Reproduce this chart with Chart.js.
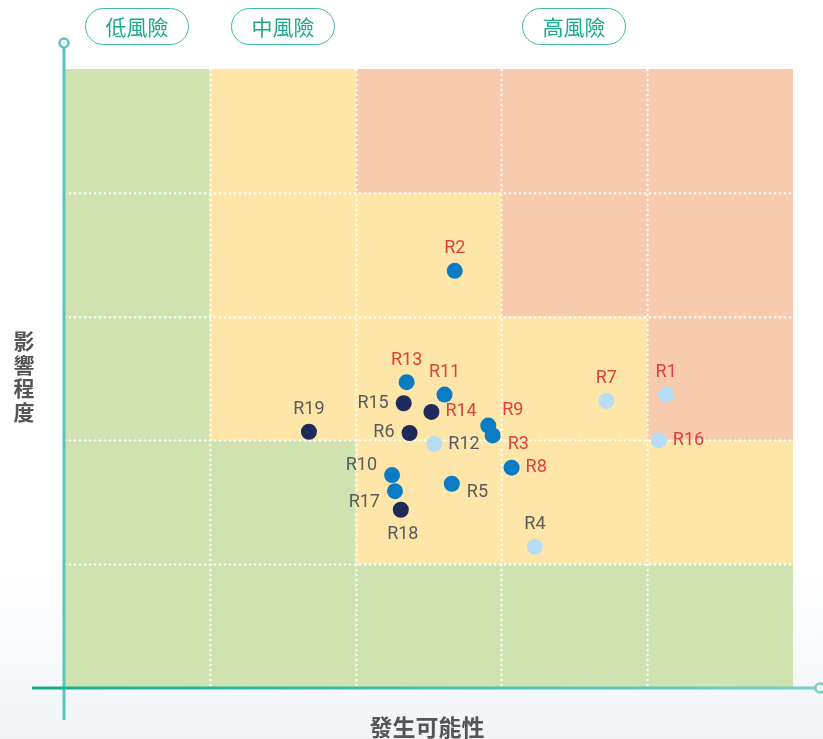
<!DOCTYPE html>
<html>
<head>
<meta charset="utf-8">
<script src="https://cdn.jsdelivr.net/npm/chart.js@4.4.0/dist/chart.umd.min.js"></script>
<style>
  html, body { margin: 0; padding: 0; }
  body {
    width: 823px; height: 739px; position: relative; overflow: hidden;
    background: linear-gradient(to bottom, #ffffff 0px, #ffffff 560px, #f1f5f8 739px);
    font-family: "Noto Sans CJK TC", "Noto Sans", sans-serif;
  }
  #c { position: absolute; left: 0; top: 0; }
  .pill {
    position: absolute; top: 8px; width: 102px; height: 35px;
    border: 1.5px solid #3dbaa4; border-radius: 19px;
    color: #1aab8d; font-size: 21px; line-height: 35px; text-align: center;
    background: #fff; box-sizing: content-box;
  }
  .ytitle {
    position: absolute; left: 12px; top: 329px; width: 24px;
    font-size: 21px; font-weight: bold; color: #555; line-height: 23.5px; text-align: center;
  }
  .xtitle {
    position: absolute; left: 327px; width: 200px; top: 710px;
    font-size: 23px; font-weight: bold; color: #555; text-align: center; line-height: 32px;
  }
</style>
</head>
<body>
<canvas id="c" width="823" height="739"></canvas>
<div class="pill" style="left:85px">低風險</div>
<div class="pill" style="left:231px">中風險</div>
<div class="pill" style="left:522px">高風險</div>
<div class="ytitle">影<br>響<br>程<br>度</div>
<div class="xtitle">發生可能性</div>
<script>
// ---- data ----
const riskIds    = ['R1','R2','R3','R4','R5','R6','R7','R8','R9','R10','R11','R12','R13','R14','R15','R16','R17','R18','R19'];
const likelihood = [4.13, 2.68, 2.94, 3.23, 2.66, 2.37, 3.72, 3.07, 2.91, 2.25, 2.61, 2.54, 2.35, 2.52, 2.33, 4.08, 2.27, 2.31, 1.68];
const impact     = [2.37, 3.37, 2.04, 1.14, 1.65, 2.06, 2.32, 1.78, 2.12, 1.72, 2.37, 1.97, 2.47, 2.23, 2.30, 2.00, 1.59, 1.44, 2.07];
const riskGroup  = ['light','blue','blue','light','blue','navy','light','blue','blue','blue','blue','light','blue','navy','navy','light','blue','navy','navy'];
const keyRisk    = [true, true, true, false, false, false, true, true, true, false, true, false, true, true, false, true, false, false, false];
const labelAnchor= ['top','top','bottom-right','top','bottom-right','left','top','right','top-right','top-left','top','right','top','right','left','right','bottom-left','bottom','top'];
// risk matrix levels, rows from top (impact 5) to bottom (impact 1), columns likelihood 1..5
const riskMatrix = [
  ['low','mid','high','high','high'],
  ['low','mid','mid','high','high'],
  ['low','mid','mid','mid','high'],
  ['low','low','mid','mid','mid'],
  ['low','low','low','low','low']
];
const axisMax = 5;

// ---- styles ----
const levelColor = { low: '#cfe3b0', mid: '#fde6a8', high: '#f8cbae' };
const groupColor = { light: '#b6ddf6', blue: '#0a7cc4', navy: '#1e2a5b' };

const matrixPlugin = {
  id: 'matrix',
  beforeDatasetsDraw(chart) {
    const { ctx, scales: { x, y } } = chart;
    ctx.save();
    for (let r = 0; r < riskMatrix.length; r++) {
      for (let c = 0; c < riskMatrix[r].length; c++) {
        const x0 = x.getPixelForValue(c), x1 = x.getPixelForValue(c + 1);
        const y0 = y.getPixelForValue(axisMax - r), y1 = y.getPixelForValue(axisMax - r - 1);
        ctx.fillStyle = levelColor[riskMatrix[r][c]];
        ctx.fillRect(x0, y0, x1 - x0, y1 - y0);
      }
    }
    // dotted grid
    ctx.strokeStyle = '#ffffff';
    ctx.lineWidth = 2;
    ctx.setLineDash([2, 3]);
    const top = y.getPixelForValue(axisMax), bottom = y.getPixelForValue(0);
    const left = x.getPixelForValue(0), right = x.getPixelForValue(axisMax);
    for (let i = 1; i < axisMax; i++) {
      const px = Math.round(x.getPixelForValue(i)) + 0.5;
      ctx.beginPath(); ctx.moveTo(px, top); ctx.lineTo(px, bottom); ctx.stroke();
      const py = Math.round(y.getPixelForValue(i)) + 0.5;
      ctx.beginPath(); ctx.moveTo(left, py); ctx.lineTo(right, py); ctx.stroke();
    }
    ctx.setLineDash([]);
    // axes
    const ax = x.getPixelForValue(0), ay = y.getPixelForValue(0);
    ctx.strokeStyle = '#5cc2bf';
    ctx.lineWidth = 3;
    ctx.beginPath(); ctx.moveTo(ax, 48); ctx.lineTo(ax, 720); ctx.stroke();
    ctx.beginPath(); ctx.arc(ax, 43, 4.5, 0, Math.PI * 2);
    ctx.fillStyle = '#fff'; ctx.fill(); ctx.lineWidth = 2.5; ctx.stroke();
    const g = ctx.createLinearGradient(32, 0, 816, 0);
    g.addColorStop(0, '#17ad8d'); g.addColorStop(1, '#7ccdc8');
    ctx.strokeStyle = g; ctx.lineWidth = 3;
    ctx.beginPath(); ctx.moveTo(32, ay); ctx.lineTo(815, ay); ctx.stroke();
    ctx.strokeStyle = '#7ccdc8'; ctx.lineWidth = 2.5;
    ctx.beginPath(); ctx.arc(820, ay, 4.5, 0, Math.PI * 2);
    ctx.fillStyle = '#fff'; ctx.fill(); ctx.stroke();
    ctx.restore();
  }
};

const labelPlugin = {
  id: 'pointLabels',
  afterDatasetsDraw(chart) {
    const { ctx } = chart;
    const meta = chart.getDatasetMeta(0);
    ctx.save();
    ctx.font = '18px Roboto, "Noto Sans", sans-serif';
    ctx.textBaseline = 'middle';
    meta.data.forEach((pt, i) => {
      const a = labelAnchor[i];
      let dx = 0, dy = 0, align = 'center';
      if (a === 'top') { dy = -22; }
      else if (a === 'bottom') { dx = 2; dy = 25; }
      else if (a === 'right') { dx = 14; align = 'left'; }
      else if (a === 'left') { dx = -15; align = 'right'; }
      else if (a === 'top-right') { dx = 14; dy = -15; align = 'left'; }
      else if (a === 'bottom-right') { dx = 15; dy = 9; align = 'left'; }
      else if (a === 'top-left') { dx = -15; dy = -10; align = 'right'; }
      else if (a === 'bottom-left') { dx = -15; dy = 11; align = 'right'; }
      ctx.textAlign = align;
      ctx.fillStyle = keyRisk[i] ? '#e0403b' : '#5a5a5a';
      ctx.fillText(riskIds[i], pt.x + dx, pt.y + dy);
    });
    ctx.restore();
  }
};

new Chart(document.getElementById('c'), {
  type: 'scatter',
  data: {
    datasets: [{
      data: likelihood.map((v, i) => ({ x: v, y: impact[i] })),
      pointRadius: 8,
      pointHoverRadius: 8,
      pointBorderWidth: 0,
      pointBackgroundColor: riskGroup.map(g => groupColor[g]),
      pointBorderColor: riskGroup.map(g => groupColor[g])
    }]
  },
  options: {
    responsive: false,
    animation: false,
    layout: { padding: { left: 64, right: 30, top: 69, bottom: 51 } },
    plugins: { legend: { display: false }, tooltip: { enabled: false } },
    scales: {
      x: { type: 'linear', min: 0, max: axisMax, display: false },
      y: { type: 'linear', min: 0, max: axisMax, display: false }
    }
  },
  plugins: [matrixPlugin, labelPlugin]
});
</script>
</body>
</html>
